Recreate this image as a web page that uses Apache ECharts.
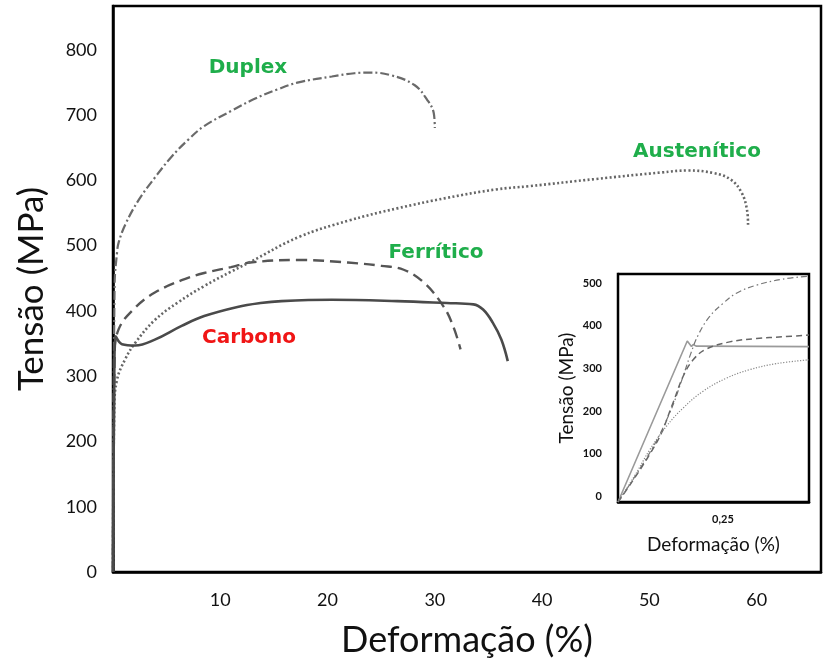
<!DOCTYPE html>
<html>
<head>
<meta charset="utf-8">
<script src="https://cdn.jsdelivr.net/npm/echarts@6/dist/echarts.min.js"></script>
<style>html,body{margin:0;padding:0;background:#fff}#c{width:824px;height:663px}</style>
</head>
<body>
<div id="c"></div>
<script>
// ---- Main chart data: [deformação %, tensão MPa] ----
const carbono = [[0,0],[0.1,250],[0.25,361],[0.84,349],[2.07,347],[3.9,356],[6.4,377],[8.5,392],[11.6,406],[13.75,412],[15.7,415],[20.4,417],[26.5,415],[31.1,412],[33.6,410],[34.5,402],[35.4,382],[36.2,356],[36.8,323]];
const duplex = [[0,0],[0.15,440],[0.38,490],[0.53,505],[1.14,532],[2.4,570],[3.9,604],[5.4,635],[7,662],[8.5,683],[11.1,707],[13.1,724],[15.3,739],[17.3,750],[20.4,759],[22.5,764],[24,765],[25.9,761],[28.1,746],[29.3,723],[29.9,703],[30.0,680]];
const ferritico = [[0,0],[0.15,330],[0.53,372],[2.07,405],[3.9,428],[6.4,447],[8.5,458],[11,467],[12.8,474],[17.3,478],[21.9,474],[25,469],[27.1,463],[29,443],[30.8,407],[31.7,377],[32.4,341]];
const austenitico = [[0,0],[0.12,250],[0.38,295],[1.14,326],[2.07,351],[3.9,386],[6.06,413],[8.5,438],[11,460],[12.8,475],[17.3,513],[21.9,538],[26.5,557],[31.1,573],[35.7,586],[38.8,591],[45,602],[51.1,612],[53.6,615],[56,611],[57.6,601],[58.6,581],[59.1,555],[59.2,532]];

// ---- Inset data (zoom on elastic region) ----
const insetCarbono = [[0,0],[0.165,377],[0.175,364],[0.179,369],[0.186,365],[0.455,364]];
const insetDuplex = [[0,0],[0.0754,115],[0.123,208],[0.155,294],[0.171,341],[0.191,391],[0.218,434],[0.25,465],[0.282,489],[0.33,508],[0.393,522],[0.455,529]];
const insetFerritico = [[0,0],[0.0913,138],[0.131,232],[0.155,294],[0.179,333],[0.21,358],[0.266,375],[0.33,383],[0.393,387],[0.455,391]];
const insetAustenitico = [[0,0],[0.0437,68],[0.0754,122],[0.115,177],[0.155,220],[0.202,259],[0.258,290],[0.314,310],[0.377,324],[0.455,333]];

// ---- Labels / ticks ----
const mainYTicks = [0,100,200,300,400,500,600,700,800];
const mainXTicks = [10,20,30,40,50,60];
const insetYTicks = [0,100,200,300,400,500];
const insetXTickLabel = '0,25';
const seriesNames = ['Carbono','Duplex','Ferrítico','Austenítico'];

const FONT = 'Lato, "Open Sans", sans-serif';
const LABELFONT = '"DejaVu Sans", Lato, sans-serif';
const chart = echarts.init(document.getElementById('c'), null, {renderer:'canvas'});

const option = {
  animation: false,
  backgroundColor: '#fff',
  grid: [
    {left:113, top:6, right:-4, bottom:90, show:true, borderColor:'#000', borderWidth:2.5, containLabel:false},
    {left:618, top:274, width:191, height:228, show:true, borderColor:'#000', borderWidth:2.5, containLabel:false, z:5, backgroundColor:'#fff'}
  ],
  xAxis: [
    {type:'value', gridIndex:0, min:0, max:66, interval:10,
     axisLine:{show:true, onZero:false, lineStyle:{color:'#000', width:2.5}},
     axisTick:{show:false}, splitLine:{show:false},
     axisLabel:{margin:19, fontFamily:FONT, fontSize:18, color:'#111',
       formatter: v => mainXTicks.includes(v) ? String(v) : ''},
     name:'Deformação (%)', nameLocation:'middle', nameGap:50,
     nameTextStyle:{fontFamily:FONT, fontSize:36, color:'#111'}},
    {type:'value', gridIndex:1, min:0, max:0.455, interval:0.25,
     axisLine:{show:true, onZero:false, lineStyle:{color:'#000', width:2.5}},
     axisTick:{show:false}, splitLine:{show:false},
     axisLabel:{margin:12, fontFamily:FONT, fontWeight:'bold', fontSize:11, color:'#111',
       formatter: v => Math.abs(v-0.25)<1e-9 ? insetXTickLabel : ''},
     name:'Deformação (%)', nameLocation:'middle', nameGap:33,
     nameTextStyle:{fontFamily:FONT, fontSize:19, color:'#111'}}
  ],
  yAxis: [
    {type:'value', gridIndex:0, min:0, max:867, interval:100,
     axisLine:{show:true, onZero:false, lineStyle:{color:'#000', width:2.5}},
     axisTick:{show:false}, splitLine:{show:false},
     axisLabel:{margin:16, fontFamily:FONT, fontSize:18, color:'#111',
       formatter: v => mainYTicks.includes(v) ? String(v) : ''},
     name:'Tensão (MPa)', nameLocation:'middle', nameGap:64, nameRotate:90,
     nameTextStyle:{fontFamily:FONT, fontSize:35, color:'#111'}},
    {type:'value', gridIndex:1, min:0, max:534, interval:100,
     axisLine:{show:true, onZero:false, lineStyle:{color:'#000', width:2.5}},
     axisTick:{show:false}, splitLine:{show:false},
     axisLabel:{margin:16, fontFamily:FONT, fontWeight:'bold', fontSize:11, color:'#111',
       verticalAlign:'bottom',
       formatter: v => insetYTicks.includes(v) ? String(v) : ''},
     name:'Tensão (MPa)', nameLocation:'middle', nameGap:42, nameRotate:90,
     nameTextStyle:{fontFamily:FONT, fontSize:19, color:'#111'}}
  ],
  series: [
    {name:seriesNames[0], type:'line', xAxisIndex:0, yAxisIndex:0, data:carbono, showSymbol:false, smooth:0.4,
     lineStyle:{color:'#4a4a4a', width:2.6, type:'solid'}, z:4},
    {name:seriesNames[1], type:'line', xAxisIndex:0, yAxisIndex:0, data:duplex, showSymbol:false, smooth:0.4,
     lineStyle:{color:'#6a6a6a', width:2.2, type:[9,3,2,3]}, z:3},
    {name:seriesNames[2], type:'line', xAxisIndex:0, yAxisIndex:0, data:ferritico, showSymbol:false, smooth:0.4,
     lineStyle:{color:'#555', width:2.4, type:[11,6]}, z:3},
    {name:seriesNames[3], type:'line', xAxisIndex:0, yAxisIndex:0, data:austenitico, showSymbol:false, smooth:0.4,
     lineStyle:{color:'#666', width:2.6, type:[2,2.4]}, z:3},

    {name:seriesNames[0]+' (inset)', type:'line', xAxisIndex:1, yAxisIndex:1, data:insetCarbono, showSymbol:false, smooth:false,
     lineStyle:{color:'#9a9a9a', width:1.6, type:'solid'}, z:6},
    {name:seriesNames[1]+' (inset)', type:'line', xAxisIndex:1, yAxisIndex:1, data:insetDuplex, showSymbol:false, smooth:0.4,
     lineStyle:{color:'#777', width:1.2, type:[6,3,1.5,3]}, z:6},
    {name:seriesNames[2]+' (inset)', type:'line', xAxisIndex:1, yAxisIndex:1, data:insetFerritico, showSymbol:false, smooth:0.4,
     lineStyle:{color:'#666', width:1.5, type:[6,4]}, z:6},
    {name:seriesNames[3]+' (inset)', type:'line', xAxisIndex:1, yAxisIndex:1, data:insetAustenitico, showSymbol:false, smooth:0.4,
     lineStyle:{color:'#888', width:1.2, type:[1.2,1.6]}, z:6}
  ],
  graphic: [
    {type:'text', x:248, y:68, z:10, style:{text:seriesNames[1], fill:'#1fae4b', font:'bold 20px '+LABELFONT, align:'center', verticalAlign:'middle', textAlign:'center', textVerticalAlign:'middle'}},
    {type:'text', x:697, y:152, z:10, style:{text:seriesNames[3], fill:'#1fae4b', font:'bold 20px '+LABELFONT, align:'center', verticalAlign:'middle', textAlign:'center', textVerticalAlign:'middle'}},
    {type:'text', x:436, y:253, z:10, style:{text:seriesNames[2], fill:'#1fae4b', font:'bold 20px '+LABELFONT, align:'center', verticalAlign:'middle', textAlign:'center', textVerticalAlign:'middle'}},
    {type:'text', x:249, y:338, z:10, style:{text:seriesNames[0], fill:'#f01515', font:'bold 20px '+LABELFONT, align:'center', verticalAlign:'middle', textAlign:'center', textVerticalAlign:'middle'}}
  ]
};
chart.setOption(option);
</script>
</body>
</html>
